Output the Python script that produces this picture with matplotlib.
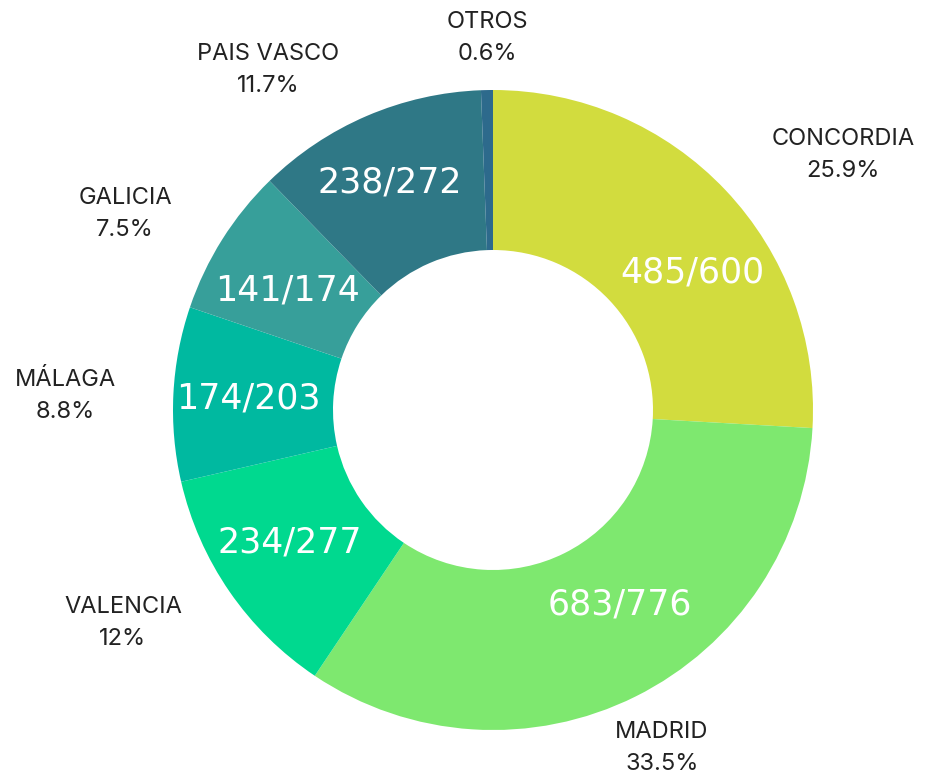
import matplotlib
matplotlib.use("Agg")
import matplotlib.pyplot as plt

# data, clockwise from 12 o'clock
regions = ["CONCORDIA", "MADRID", "VALENCIA", "MÁLAGA", "GALICIA", "PAIS VASCO", "OTROS"]
shares = [25.9, 33.5, 12.0, 8.8, 7.5, 11.7, 0.6]
share_txt = ["25.9%", "33.5%", "12%", "8.8%", "7.5%", "11.7%", "0.6%"]
fractions = ["485/600", "683/776", "234/277", "174/203", "141/174", "238/272", ""]

colors = ["#d2dc3e", "#7ee86f", "#00d98f", "#00b9a0", "#379f9a", "#2f7886", "#2d6a8c"]

# layout in pixel coords (y measured from top)
W, H = 936, 776
cx, cy, R, r_in = 493, 410, 320, 160
outer_pos = [(843, 155), (662, 748), (123, 623), (65, 396), (125, 214), (268, 70), (487, 38)]
inner_pos = [(692, 272), (620, 605), (290, 543), (248, 398), (288, 290), (390, 182), None]

fig = plt.figure(figsize=(W / 100, H / 100), dpi=100)
ax = fig.add_axes([0, 0, 1, 1])
ax.pie(shares, colors=colors, startangle=90, counterclock=False,
       center=(cx, H - cy), radius=R,
       wedgeprops=dict(width=R - r_in, linewidth=0))
ax.set_xlim(0, W)
ax.set_ylim(0, H)
ax.set_aspect("equal")
ax.axis("off")

for name, pct, (x, y) in zip(regions, share_txt, outer_pos):
    ax.text(x, H - y, f"{name}\n{pct}", ha="center", va="center",
            fontsize=17, color="#222222", family="Inter", linespacing=1.6)

for frac, pos in zip(fractions, inner_pos):
    if pos is None:
        continue
    ax.text(pos[0], H - pos[1], frac, ha="center", va="center",
            fontsize=25, color="white", family="DejaVu Sans")

fig.savefig("out.png", dpi=100)
